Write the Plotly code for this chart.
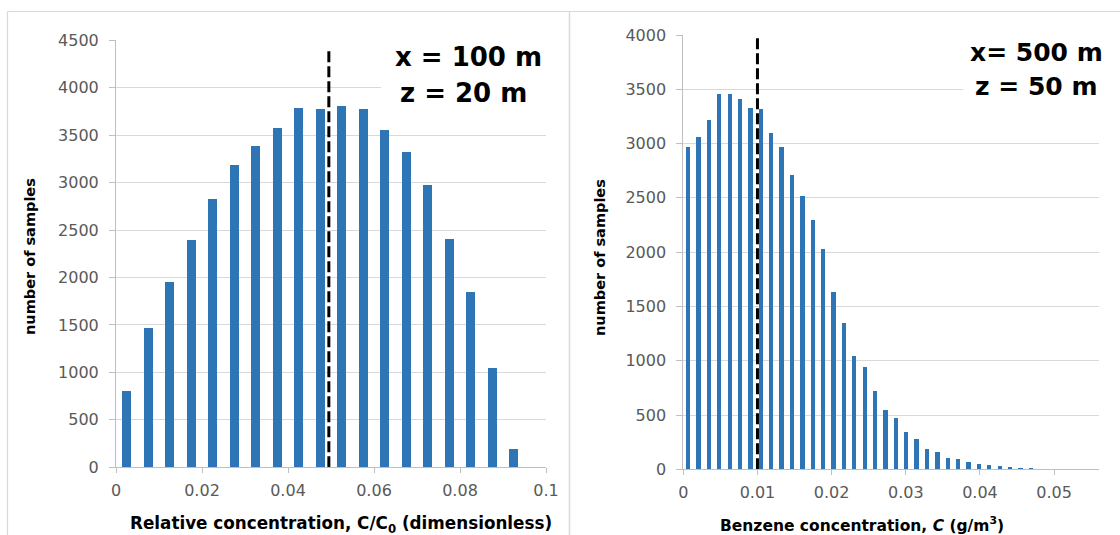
import plotly.graph_objects as go

# ---------------- data ----------------
LEFT_BIN_CENTERS = [0.0025, 0.0075, 0.0125, 0.0175, 0.0225, 0.0275, 0.0325, 0.0375, 0.0425, 0.0475,
                    0.0525, 0.0575, 0.0625, 0.0675, 0.0725, 0.0775, 0.0825, 0.0875, 0.0925]
LEFT_COUNTS = [800, 1460, 1950, 2395, 2820, 3180, 3380, 3570, 3785, 3775,
               3800, 3770, 3550, 3315, 2975, 2400, 1845, 1040, 190]
LEFT_MEAN_X = 0.0495
LEFT_MEAN_TOP = 4400

RIGHT_BIN_CENTERS = [0.0007, 0.0021, 0.0035, 0.0049, 0.0063, 0.0077, 0.0091, 0.0105, 0.0119, 0.0133,
                     0.0147, 0.0161, 0.0175, 0.0189, 0.0203, 0.0217, 0.0231, 0.0245, 0.0259, 0.0273,
                     0.0287, 0.0301, 0.0315, 0.0329, 0.0343, 0.0357, 0.0371, 0.0385, 0.0399, 0.0413,
                     0.0427, 0.0441, 0.0455, 0.0469]
RIGHT_COUNTS = [2970, 3060, 3220, 3460, 3460, 3410, 3330, 3320, 3100, 2970,
                2710, 2520, 2300, 2030, 1630, 1345, 1040, 940, 725, 550,
                475, 340, 280, 185, 155, 107, 95, 67, 52, 40,
                34, 18, 12, 6]
RIGHT_MEAN_X = 0.01
RIGHT_MEAN_TOP = 3980

LEFT_TICKS = [0, 0.02, 0.04, 0.06, 0.08, 0.1]
LEFT_TICK_TEXT = ["0", "0.02", "0.04", "0.06", "0.08", "0.1"]
RIGHT_TICKS = [0, 0.01, 0.02, 0.03, 0.04, 0.05]
RIGHT_TICK_TEXT = ["0", "0.01", "0.02", "0.03", "0.04", "0.05"]

# ---------------- layout helpers ----------------
W, H = 1120, 535
def px(x):
    return x / W
def py(y):
    return 1 - y / H

BAR_COLOR = "#2E75B6"
GRID = "#D9D9D9"
AXIS = "#BFBFBF"
TICKFONT = dict(family="DejaVu Sans", size=16, color="#595959")
BOLD = "DejaVu Sans"

fig = go.Figure()
fig.add_trace(go.Bar(x=LEFT_BIN_CENTERS, y=LEFT_COUNTS, width=0.00207,
                     marker=dict(color=BAR_COLOR, line=dict(width=0)),
                     xaxis="x", yaxis="y", showlegend=False))
fig.add_trace(go.Scatter(x=[LEFT_MEAN_X, LEFT_MEAN_X], y=[0, LEFT_MEAN_TOP], mode="lines",
                         line=dict(color="black", width=3, dash="11px,4px"),
                         xaxis="x", yaxis="y", showlegend=False))
fig.add_trace(go.Bar(x=RIGHT_BIN_CENTERS, y=RIGHT_COUNTS, width=0.00058,
                     marker=dict(color=BAR_COLOR, line=dict(width=0)),
                     xaxis="x2", yaxis="y2", showlegend=False))
fig.add_trace(go.Scatter(x=[RIGHT_MEAN_X, RIGHT_MEAN_X], y=[0, RIGHT_MEAN_TOP], mode="lines",
                         line=dict(color="black", width=3, dash="11px,4px"),
                         xaxis="x2", yaxis="y2", showlegend=False))

common_x = dict(showgrid=False, zeroline=False, showline=True, linecolor=AXIS, linewidth=1,
                ticks="outside", ticklen=5, tickcolor=AXIS, tickfont=TICKFONT,
                fixedrange=True, ticklabelstandoff=3, automargin=False)
common_y = dict(showgrid=True, gridcolor=GRID, gridwidth=1, zeroline=False, showline=True,
                linecolor=AXIS, linewidth=1, ticks="outside", ticklen=6, tickcolor=AXIS,
                tickfont=TICKFONT, fixedrange=True, ticklabelstandoff=7, automargin=False)

fig.update_layout(
    width=W, height=H,
    margin=dict(l=0, r=0, t=0, b=0, pad=0, autoexpand=False),
    paper_bgcolor="white", plot_bgcolor="white",
    bargap=0,
    xaxis=dict(domain=[px(116), px(546)], range=[0, 0.1], tickvals=LEFT_TICKS,
               ticktext=LEFT_TICK_TEXT, anchor="y", **common_x),
    yaxis=dict(domain=[py(467.3), py(40.3)], range=[0, 4500], dtick=500, anchor="x", **common_y),
    xaxis2=dict(domain=[px(683.3), px(1098.6)], range=[0, 0.056], tickvals=RIGHT_TICKS,
                ticktext=RIGHT_TICK_TEXT, anchor="y2", **common_x),
    yaxis2=dict(domain=[py(469.3), py(35)], range=[0, 4000], dtick=500, anchor="x2", **common_y),
)

shapes = [
    # panel borders (kept inside the figure)
    dict(type="line", xref="paper", yref="paper", x0=px(7.5), x1=1, y0=py(11.5), y1=py(11.5),
         line=dict(color=GRID, width=1.2), layer="below"),
    dict(type="line", xref="paper", yref="paper", x0=px(7.5), x1=px(7.5), y0=0, y1=py(11.5),
         line=dict(color=GRID, width=1.2), layer="below"),
    dict(type="line", xref="paper", yref="paper", x0=px(569.5), x1=px(569.5), y0=0, y1=py(11.5),
         line=dict(color=GRID, width=1.5), layer="below"),
    # white boxes behind the labels
    dict(type="rect", xref="paper", yref="paper", x0=px(381), x1=px(560), y0=py(115), y1=py(28),
         line=dict(width=0), fillcolor="white", layer="above"),
    dict(type="rect", xref="paper", yref="paper", x0=px(963), x1=px(1112), y0=py(120), y1=py(25),
         line=dict(width=0), fillcolor="white", layer="above"),
]
fig.update_layout(shapes=shapes)

ann = []
def add_text(text, x, y, size, angle=0, color="black", xanchor="center"):
    ann.append(dict(text=text, x=px(x), y=py(y), xref="paper", yref="paper", showarrow=False,
                    xanchor=xanchor, yanchor="middle", textangle=angle,
                    font=dict(family=BOLD, size=size, color=color)))

add_text("<b>x = 100 m</b>", 468.5, 57, 26)
add_text("<b>z = 20 m</b>", 463, 93.5, 26)
add_text("<b>x= 500 m</b>", 1036, 52, 25)
add_text("<b>z = 50 m</b>", 1036, 86, 25)
add_text("<b>number of samples</b>", 30, 257, 14.5, angle=-90)
add_text("<b>number of samples</b>", 600, 258, 14.5, angle=-90)
add_text("<b>Relative concentration, C/C<sub>0</sub> (dimensionless)</b>", 340.5, 524, 16.8)
add_text("<b>Benzene concentration, <i>C</i> (g/m<sup>3</sup>)</b>", 861.5, 524, 15.5)
fig.update_layout(annotations=ann)

fig.write_html("out.html", config={"displayModeBar": False},
               post_script="document.body.style.margin='0';document.body.style.overflow='hidden';")
